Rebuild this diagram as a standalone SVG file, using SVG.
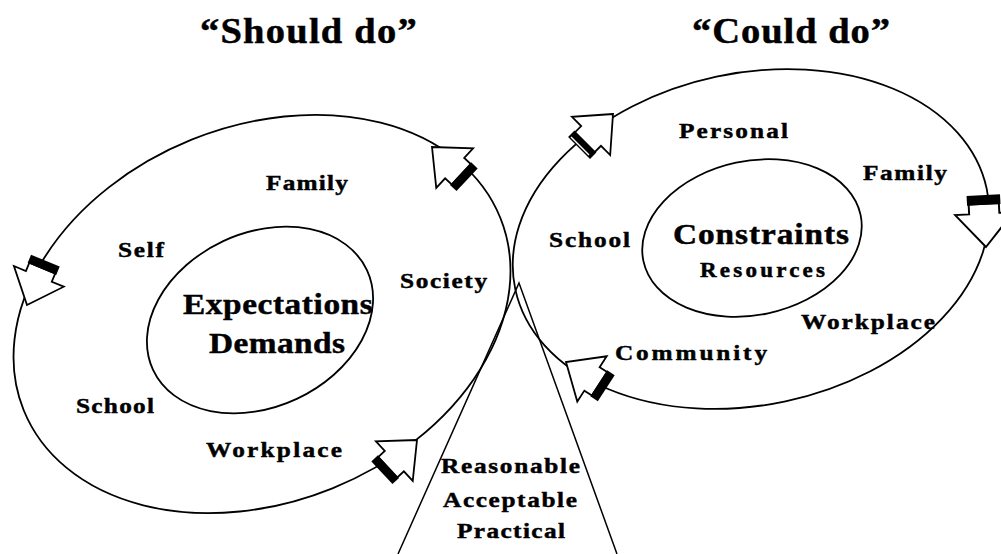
<svg xmlns="http://www.w3.org/2000/svg" xmlns:xlink="http://www.w3.org/1999/xlink" width="1001" height="554" viewBox="0 0 1001 554">
  <style>
    .ring { fill: none; stroke: #000; stroke-width: 1.8; }
    .edge { fill: none; stroke: #000; stroke-width: 1.5; }
    text { font-family: "Liberation Serif", "Times New Roman", serif; font-weight: bold; fill: #000; stroke: #000; stroke-width: 0.45; }
    .title { font-size: 35px; }
    .core { font-size: 29px; }
    .lbl { font-size: 22px; }
    .lbl-s { font-size: 20px; }
  </style>
  <defs>
    <!-- block arrow pointing along +x, tip at the origin, black band at the tail -->
    <g id="flow-arrow">
      <path d="M0,0 L-31,-27 L-31,-14 L-40,-14 L-40,14 L-31,14 L-31,27 Z" fill="#fff" stroke="#000" stroke-width="1.8" stroke-linejoin="miter"/>
      <rect x="-48" y="-15.5" width="9" height="31" fill="#000"/>
    </g>
  </defs>
  <rect width="1001" height="554" fill="#fff"/>

  <!-- labels use a slightly widened bold serif: translate to the start point, then stretch -->
  <g id="title-should">
    <text class="title" transform="translate(200 43) scale(1.1 1)" textLength="197" lengthAdjust="spacing">“Should do”</text>
  </g>
  <g id="title-could">
    <text class="title" transform="translate(692 43) scale(1.1 1)" textLength="180" lengthAdjust="spacing">“Could do”</text>
  </g>

  <!-- left cycle: sources of expectations -->
  <g id="should-cycle">
    <ellipse class="ring" cx="262" cy="314" rx="257" ry="188" transform="rotate(-22 262 314)"/>
    <text class="lbl" transform="translate(266 190) scale(1.15 1)" textLength="71.3" lengthAdjust="spacing">Family</text>
    <text class="lbl" transform="translate(118 257) scale(1.15 1)" textLength="40" lengthAdjust="spacing">Self</text>
    <text class="lbl" transform="translate(400 288) scale(1.15 1)" textLength="75.7" lengthAdjust="spacing">Society</text>
    <text class="lbl" transform="translate(76 413) scale(1.15 1)" textLength="67.8" lengthAdjust="spacing">School</text>
    <text class="lbl" transform="translate(206 457) scale(1.15 1)" textLength="118.3" lengthAdjust="spacing">Workplace</text>
  </g>
  <g id="expectations">
    <ellipse class="ring" cx="260" cy="320" rx="118" ry="87" transform="rotate(-25 260 320)"/>
    <text class="core" transform="translate(183 314) scale(1.15 1)" textLength="165" lengthAdjust="spacing">Expectations</text>
    <text class="core" transform="translate(209 353) scale(1.15 1)" textLength="118.3" lengthAdjust="spacing">Demands</text>
  </g>

  <!-- right cycle: available means -->
  <g id="could-cycle">
    <ellipse class="ring" cx="751" cy="239" rx="241" ry="166" transform="rotate(-12 751 239)"/>
    <text class="lbl" transform="translate(679 138) scale(1.15 1)" textLength="94.8" lengthAdjust="spacing">Personal</text>
    <text class="lbl" transform="translate(863 180) scale(1.15 1)" textLength="73" lengthAdjust="spacing">Family</text>
    <text class="lbl" transform="translate(549 247) scale(1.15 1)" textLength="70.4" lengthAdjust="spacing">School</text>
    <text class="lbl" transform="translate(801 329) scale(1.15 1)" textLength="116.5" lengthAdjust="spacing">Workplace</text>
    <text class="lbl" transform="translate(615 360) scale(1.15 1)" textLength="132.2" lengthAdjust="spacing">Community</text>
  </g>
  <g id="constraints">
    <ellipse class="ring" cx="752" cy="238" rx="111" ry="77" transform="rotate(-12 752 238)"/>
    <text class="core" transform="translate(673 244) scale(1.15 1)" textLength="153" lengthAdjust="spacing">Constraints</text>
    <text class="lbl-s" transform="translate(700 277) scale(1.15 1)" textLength="108.7" lengthAdjust="spacing">Resources</text>
  </g>

  <!-- overlap cone between the two cycles -->
  <g id="judgement-cone">
    <path class="edge" d="M398,554 L519,283 L617,554"/>
    <text class="lbl" transform="translate(441 473) scale(1.15 1)" textLength="120.9" lengthAdjust="spacing">Reasonable</text>
    <text class="lbl" transform="translate(443 507) scale(1.15 1)" textLength="116.5" lengthAdjust="spacing">Acceptable</text>
    <text class="lbl" transform="translate(457 538) scale(1.15 1)" textLength="93.9" lengthAdjust="spacing">Practical</text>
  </g>

  <g id="connectors">
    <use xlink:href="#flow-arrow" transform="translate(432 147) rotate(223)"/>
    <use xlink:href="#flow-arrow" transform="translate(27 305) rotate(112.5)"/>
    <use xlink:href="#flow-arrow" transform="translate(417 440) rotate(-43)"/>
    <use xlink:href="#flow-arrow" transform="translate(613 114) rotate(-45)"/>
    <line x1="571" y1="137" x2="589" y2="155" stroke="#fff" stroke-width="1.5"/>
    <use xlink:href="#flow-arrow" transform="translate(986 247) rotate(87) scale(1.08)"/>
    <use xlink:href="#flow-arrow" transform="translate(566 362) rotate(213)"/>
  </g>
</svg>
